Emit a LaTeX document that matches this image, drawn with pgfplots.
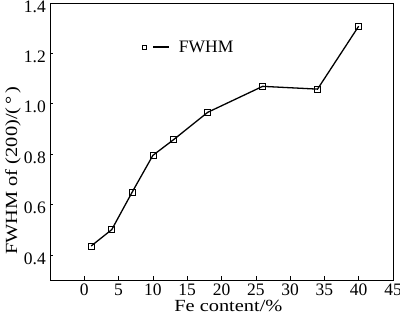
\documentclass[border=0pt]{standalone}
\usepackage{fontspec}
\setmainfont{Liberation Serif}
\newfontfamily\lblfont{Liberation Serif}[FakeStretch=1.2]
\usepackage{pgfplots}
\pgfplotsset{compat=1.18}
\begin{document}
\begin{tikzpicture}
\begin{axis}[
  scale only axis,
  width=343bp, height=277bp,
  xmin=-5, xmax=45, ymin=0.3, ymax=1.4,
  xtick={0,5,...,45},
  ytick={0.4,0.6,...,1.41},
  yticklabel style={/pgf/number format/fixed,/pgf/number format/fixed zerofill,/pgf/number format/precision=1,
    anchor=east, inner sep=0pt, xshift=-4bp, yshift=-3.5bp},
  xticklabel style={anchor=base, inner sep=0pt, yshift=-15.5bp},
  /pgf/number format/assume math mode=true,
  tick align=inside,
  xtick pos=bottom, ytick pos=left,
  major tick length=3.5bp,
  tick style={line width=0.6bp, black},
  axis line style={line width=0.7bp},
  ticklabel style={font=\fontsize{17.5bp}{20bp}\selectfont},
  label style={font=\lblfont\fontsize{17bp}{20bp}\selectfont},
  xlabel={Fe content/\%},
  ylabel={FWHM of (200)/(\,°\,)},
  xlabel style={at={(rel axis cs:0.52,-0.1155)}, anchor=base, inner sep=0pt},
  ylabel style={at={(rel axis cs:-0.0962,0.394)}, anchor=base, inner sep=0pt},
  legend style={draw=none, fill=none, at={(rel axis cs:0.268,0.841)}, anchor=west,
    font=\fontsize{17.5bp}{20bp}\selectfont, inner sep=0pt},
  legend image code/.code={
    \draw[#1, mark=none] (9bp,0bp) -- (25bp,0bp);
    \draw[#1, only marks, mark size=2.2bp] plot coordinates {(0bp,0bp)};
    \path (32bp,0bp);
  },
]
\addplot[black, line width=1.3bp, mark=square, mark size=3bp, mark options={solid, fill=white, line width=0.6bp}]
coordinates {
(1,0.435) (4,0.5) (7,0.65) (10,0.795) (13,0.857) (18,0.966) (26,1.069) (34,1.058) (40,1.308)
};
\addlegendentry{FWHM}
\end{axis}
\pgfresetboundingbox
\path[use as bounding box] ([shift={(-50bp,-34bp)}]current axis.south west) rectangle ++(400bp,314bp);
\end{tikzpicture}
\end{document}
